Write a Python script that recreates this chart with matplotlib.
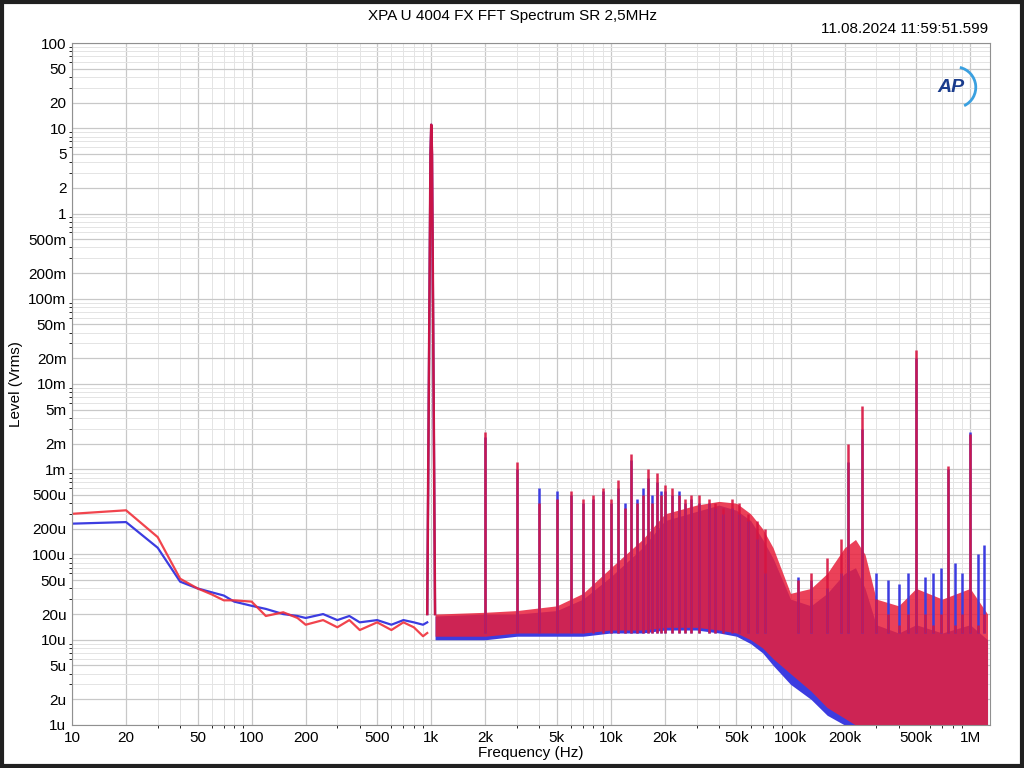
import numpy as np
import matplotlib.pyplot as plt
from matplotlib.patches import Arc

# --- data (Vrms) ---
# low-frequency floor, 10 Hz .. 1 kHz
lf_freq = [10, 20, 30, 40, 50, 60, 70, 80, 100, 120, 150, 180, 200, 250, 300, 350, 400, 500, 600, 700, 800, 900, 950]
lf_blue = [230e-6, 240e-6, 120e-6, 48e-6, 40e-6, 36e-6, 33e-6, 28e-6, 25e-6, 23e-6, 20e-6, 19e-6, 18e-6, 20e-6, 17e-6, 19e-6, 16e-6, 17e-6, 15e-6, 17e-6, 16e-6, 15e-6, 16e-6]
lf_red = [300e-6, 330e-6, 160e-6, 52e-6, 40e-6, 34e-6, 29e-6, 29e-6, 28e-6, 19e-6, 21e-6, 18e-6, 15e-6, 17e-6, 14e-6, 17e-6, 13e-6, 16e-6, 13e-6, 16e-6, 14e-6, 11e-6, 12e-6]

# fundamental
fund_freq = [950, 975, 990, 1000, 1010, 1025, 1050]
fund_level = [20e-6, 0.05, 5.0, 11.0, 5.0, 0.05, 20e-6]

# noise band envelopes above 1 kHz
band_freq = [1050, 2000, 3000, 5000, 7000, 10e3, 15e3, 20e3, 30e3, 40e3, 50e3, 60e3, 70e3, 80e3, 100e3, 130e3, 160e3, 200e3, 230e3, 260e3, 300e3, 400e3, 500e3, 700e3, 1000e3, 1250e3]
band_red_hi = [20e-6, 21e-6, 22e-6, 25e-6, 35e-6, 70e-6, 150e-6, 300e-6, 380e-6, 420e-6, 400e-6, 300e-6, 200e-6, 120e-6, 35e-6, 40e-6, 60e-6, 120e-6, 150e-6, 100e-6, 30e-6, 25e-6, 40e-6, 30e-6, 40e-6, 20e-6]
band_red_lo = [11e-6, 11e-6, 12e-6, 12e-6, 12e-6, 13e-6, 13e-6, 14e-6, 14e-6, 13e-6, 12e-6, 10e-6, 8e-6, 6e-6, 4e-6, 2.5e-6, 1.6e-6, 1.2e-6, 1.0e-6, 1.0e-6, 1.0e-6, 1.0e-6, 1.0e-6, 1.0e-6, 1.0e-6, 1.0e-6]
band_blue_hi = [19e-6, 20e-6, 20e-6, 22e-6, 30e-6, 55e-6, 120e-6, 250e-6, 320e-6, 380e-6, 330e-6, 250e-6, 150e-6, 90e-6, 30e-6, 25e-6, 35e-6, 60e-6, 70e-6, 40e-6, 15e-6, 12e-6, 15e-6, 12e-6, 15e-6, 10e-6]
band_blue_lo = [10e-6, 10e-6, 11e-6, 11e-6, 11e-6, 12e-6, 12e-6, 13e-6, 13e-6, 12e-6, 11e-6, 9e-6, 7e-6, 5e-6, 3e-6, 2e-6, 1.3e-6, 1.0e-6, 1.0e-6, 1.0e-6, 1.0e-6, 1.0e-6, 1.0e-6, 1.0e-6, 1.0e-6, 1.0e-6]

# discrete spikes (harmonics and spurs)
sp_freq = [2e3, 3e3, 4e3, 5e3, 6e3, 7e3, 8e3, 9e3, 10e3, 11e3, 12e3, 13e3, 14e3, 15e3, 16e3, 17e3, 18e3, 19e3, 20e3, 22e3, 24e3, 26e3, 28e3, 31e3, 35e3, 38e3, 42e3, 47e3, 52e3, 58e3, 65e3, 72e3, 110e3, 130e3, 160e3, 190e3, 210e3, 250e3, 300e3, 350e3, 400e3, 450e3, 500e3, 560e3, 620e3, 690e3, 750e3, 820e3, 900e3, 1000e3, 1100e3, 1200e3]
sp_red = [2.7e-3, 1.2e-3, 0.4e-3, 0.45e-3, 0.55e-3, 0.45e-3, 0.5e-3, 0.6e-3, 0.45e-3, 0.75e-3, 0.35e-3, 1.5e-3, 0.4e-3, 0.5e-3, 1.0e-3, 0.4e-3, 0.9e-3, 0.5e-3, 0.65e-3, 0.6e-3, 0.5e-3, 0.45e-3, 0.5e-3, 0.5e-3, 0.45e-3, 0.4e-3, 0.35e-3, 0.45e-3, 0.4e-3, 0.3e-3, 0.25e-3, 0.2e-3, 50e-6, 60e-6, 90e-6, 150e-6, 2.0e-3, 5.5e-3, 30e-6, 20e-6, 15e-6, 20e-6, 25e-3, 20e-6, 15e-6, 20e-6, 1.1e-3, 15e-6, 20e-6, 2.6e-3, 15e-6, 20e-6]
sp_blue = [2.4e-3, 1.0e-3, 0.6e-3, 0.55e-3, 0.5e-3, 0.4e-3, 0.45e-3, 0.55e-3, 0.4e-3, 0.6e-3, 0.4e-3, 1.3e-3, 0.45e-3, 0.6e-3, 0.8e-3, 0.5e-3, 0.7e-3, 0.55e-3, 0.55e-3, 0.5e-3, 0.55e-3, 0.4e-3, 0.45e-3, 0.4e-3, 0.4e-3, 0.35e-3, 0.3e-3, 0.35e-3, 0.3e-3, 0.25e-3, 0.15e-3, 60e-6, 55e-6, 50e-6, 40e-6, 60e-6, 1.2e-3, 3.0e-3, 60e-6, 50e-6, 45e-6, 60e-6, 20e-3, 55e-6, 60e-6, 70e-6, 1.0e-3, 80e-6, 60e-6, 2.7e-3, 100e-6, 130e-6]

BLUE = '#3c3ce0'
RED = '#f0303a'

fig = plt.figure(figsize=(10.24, 7.68), dpi=100)
plt.rcParams['font.family'] = ['Liberation Sans', 'DejaVu Sans']
ax = fig.add_axes([0.0703, 0.056, 0.8965, 0.888])
ax.set_axisbelow(True)

# blue channel
ax.plot(lf_freq, lf_blue, color=BLUE, lw=1.6)
ax.fill_between(band_freq, band_blue_lo, band_blue_hi, color=BLUE, lw=0)
ax.vlines(sp_freq, 12e-6, sp_blue, color=BLUE, lw=1.8)
ax.plot(fund_freq, fund_level, color=BLUE, lw=1.6)

# red channel on top
ax.plot(lf_freq, lf_red, color=RED, lw=1.6, alpha=0.9)
ax.fill_between(band_freq, band_red_lo, band_red_hi, color='#e8203c', alpha=0.85, lw=0)
ax.vlines(sp_freq, 12e-6, sp_red, color='#d81440', lw=1.8, alpha=0.9)
ax.plot(fund_freq, fund_level, color='#c81448', lw=1.8)

ax.set_xscale('log')
ax.set_yscale('log')
ax.set_xlim(10, 1.29e6)
ax.set_ylim(1e-6, 100)

xt = [10, 20, 50, 100, 200, 500, 1e3, 2e3, 5e3, 10e3, 20e3, 50e3, 100e3, 200e3, 500e3, 1e6]
xl = ['10', '20', '50', '100', '200', '500', '1k', '2k', '5k', '10k', '20k', '50k', '100k', '200k', '500k', '1M']
ax.set_xticks(xt)
ax.set_xticklabels(xl)
yt = [100, 50, 20, 10, 5, 2, 1, 500e-3, 200e-3, 100e-3, 50e-3, 20e-3, 10e-3, 5e-3, 2e-3, 1e-3,
      500e-6, 200e-6, 100e-6, 50e-6, 20e-6, 10e-6, 5e-6, 2e-6, 1e-6]
yl = ['100', '50', '20', '10', '5', '2', '1', '500m', '200m', '100m', '50m', '20m', '10m', '5m', '2m', '1m',
      '500u', '200u', '100u', '50u', '20u', '10u', '5u', '2u', '1u']
ax.set_yticks(yt)
ax.set_yticklabels(yl)
ax.tick_params(labelsize=11, length=0, pad=4)
ax.grid(True, which='major', color='#c8c8c8', lw=0.9)
ax.grid(True, which='minor', color='#e4e4e4', lw=0.7)
for s in ax.spines.values():
    s.set_color('#909090')

ax.set_xlabel('Frequency (Hz)', fontsize=11, labelpad=1)
ax.set_ylabel('Level (Vrms)', fontsize=11, labelpad=4)
fig.text(0.5, 0.988, 'XPA U 4004 FX FFT Spectrum SR 2,5MHz', ha='center', va='top', fontsize=11)
fig.text(0.965, 0.962, '11.08.2024 11:59:51.599', ha='right', va='center', fontsize=11)

# AP logo
ax.text(0.957, 0.935, 'AP', transform=ax.transAxes, ha='center', va='center',
        fontsize=14, fontweight='bold', fontstyle='italic', color='#1a3c8c')
ax.add_patch(Arc((0.962, 0.935), 0.045, 0.06, theta1=-70, theta2=80, transform=ax.transAxes,
                 color='#3aa0e0', lw=2))

# dark outer frame
fig.patches.append(plt.Rectangle((0.002, 0.002), 0.996, 0.996, transform=fig.transFigure,
                                 fill=False, color='#202020', lw=3))

fig.savefig('out.png', dpi=100)
